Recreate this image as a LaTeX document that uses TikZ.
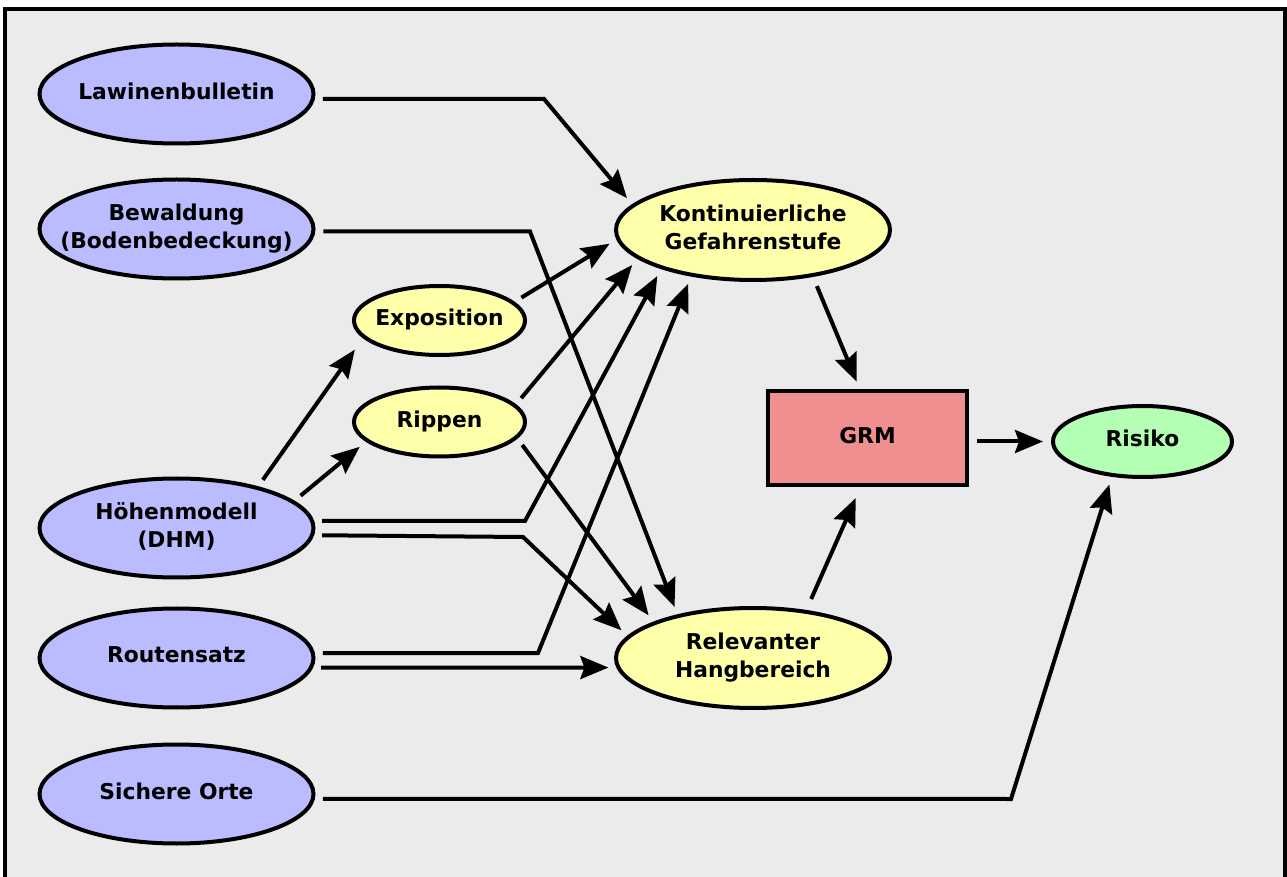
\documentclass[tikz,border=0pt]{standalone}
\usepackage{fontspec}
\setmainfont{DejaVu Sans}
\usepackage{xcolor}
\usepackage{tikz}
\usetikzlibrary{arrows.meta,shapes.geometric}

\definecolor{inblue}{RGB}{187,187,255}
\definecolor{midyellow}{RGB}{255,255,170}
\definecolor{grmred}{RGB}{240,143,143}
\definecolor{riskgreen}{RGB}{179,255,179}
\definecolor{bggray}{RGB}{235,235,235}

\tikzset{
  labelfont/.style={font=\fontsize{10.9pt}{14pt}\selectfont\bfseries,text depth=3pt},
  blob/.style={ellipse,draw,line width=2pt,inner xsep=-20pt,inner ysep=0pt,align=center,labelfont},
  inputnode/.style={blob,fill=inblue,minimum width=137pt,minimum height=49.5pt},
  derived/.style={blob,fill=midyellow,minimum width=85.5pt,minimum height=34.5pt},
  result/.style={blob,fill=midyellow,minimum width=137pt,minimum height=50pt},
  riskblob/.style={blob,fill=riskgreen,minimum width=89.5pt,minimum height=35.5pt},
  modelbox/.style={rectangle,draw,line width=2pt,fill=grmred,minimum width=99.5pt,minimum height=47pt,labelfont},
  conn/.style={line width=2pt,-{Stealth[length=14pt,width=11.5pt,inset=2pt]},shorten <=4pt,shorten >=4pt}
}

\begin{document}
\begin{tikzpicture}[x=0.5pt,y=-0.5pt]
\useasboundingbox (0,0) rectangle (1287,877);

% Background
\draw[line width=2pt,fill=bggray] (5,9.5) rectangle (1285,900);

% Inputs
\node[inputnode] (lawine) at (176.5,94) {Lawinenbulletin};
\node[inputnode] (wald) at (176.5,229) {Bewaldung\\(Bodenbedeckung)};
\node[inputnode] (hoehe) at (176.5,528) {Höhenmodell\\(DHM)};
\node[inputnode] (route) at (176.5,658) {Routensatz};
\node[inputnode] (orte) at (176.5,794) {Sichere Orte};

% Derived layers
\node[derived] (expo) at (439.5,320.5) {Exposition};
\node[derived] (rippen) at (439.5,422) {Rippen};
\node[result] (gefahr) at (753,230) {Kontinuierliche\\Gefahrenstufe};
\node[result] (hang) at (753,658) {Relevanter\\Hangbereich};

% Model and output
\node[modelbox] (grm) at (867.5,438) {GRM};
\node[riskblob] (risiko) at (1142.5,441.5) {Risiko};

% Into Gefahrenstufe
\draw[conn] (lawine.-2) -- (544,99) -- (gefahr.168);
\draw[conn] (expo.14) -- (gefahr.184);
\draw[conn] (rippen.13) -- (gefahr.194);
\draw[conn] (hoehe.3) -- (525,521) -- (gefahr.203);
\draw[conn] (route.2) -- (538,653) -- (gefahr.217);

% Into Hangbereich
\draw[conn] (wald.-1) -- (530,231.5) -- (hang.150);
\draw[conn] (hoehe.-3.5) -- (523,537) -- (hang.170);
\draw[conn] (rippen.-12) -- (hang.160);
\draw[conn] (route.-4) -- (hang.184);

% Terrain
\draw[conn,shorten >=7pt] (hoehe.27) -- (expo.193);
\draw[conn] (hoehe.13) -- (rippen.195);

% GRM and Risiko
\draw[conn,shorten <=5pt] (gefahr.-38) -- (grm.99);
\draw[conn,shorten <=6pt,shorten >=6pt] (hang.42) -- (grm.262);
\draw[conn] (grm.east |- risiko) -- (risiko);
\draw[conn] (orte.-2) -- (1011,799) -- (risiko.229);
\end{tikzpicture}
\end{document}
